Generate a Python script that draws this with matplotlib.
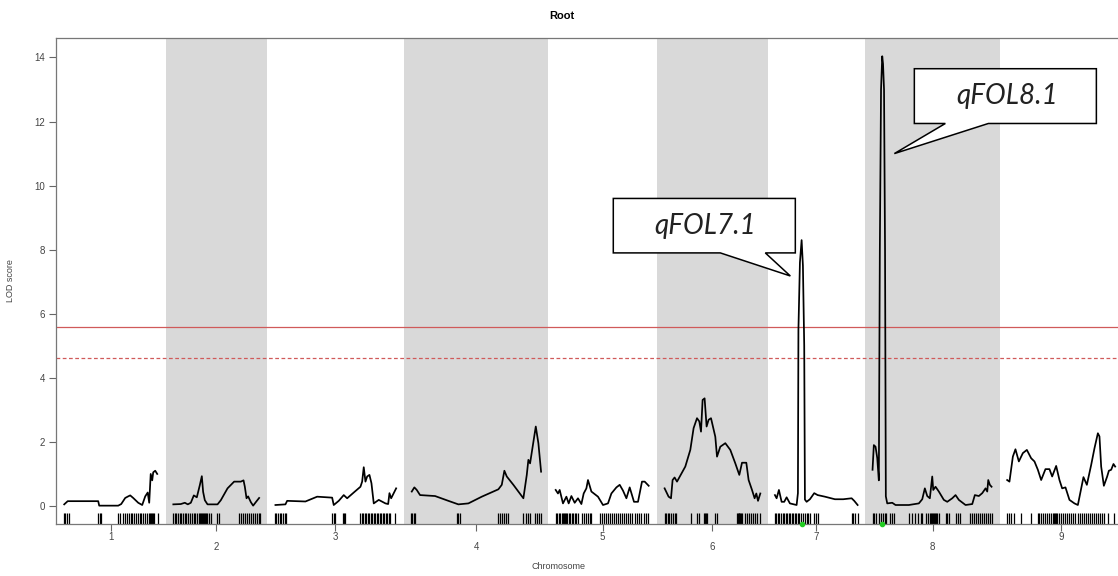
import matplotlib
matplotlib.use("Agg")
import matplotlib.pyplot as plt
from matplotlib.patches import Polygon

plt.rcParams["font.family"] = ["Liberation Sans", "DejaVu Sans"]

# ---- chromosome layout (cM) ----
CHR_NAMES = ["1", "2", "3", "4", "5", "6", "7", "8", "9"]
CHR_LEN = [95, 87, 122, 130, 94, 96, 83, 120, 108]
GAP = 14.6

# ---- LOD profiles (position within chromosome, LOD) ----
chr1_pos = [1, 4.5, 35, 36, 55, 58, 62, 65, 67, 70, 75, 79, 82, 84.5, 86, 87.5, 89, 90, 92, 94]
chr1_lod = [0.05, 0.15, 0.15, 0.01, 0.01, 0.06, 0.25, 0.3, 0.33, 0.25, 0.1, 0.03, 0.3, 0.42, 0.1, 1.0, 0.8, 1.05, 1.1, 1.0]

chr2_pos = [0.5, 8, 12, 15, 18, 21, 24, 27, 29, 30.3, 32, 34.7, 44.7, 48, 54.7, 61.3, 68, 70.7, 72, 73.7,
            75.3, 78, 80.3, 83, 86.3]
chr2_lod = [0.05, 0.06, 0.1, 0.05, 0.1, 0.33, 0.27, 0.65, 0.93, 0.44, 0.18, 0.05, 0.05, 0.18, 0.55, 0.76, 0.76, 0.8, 0.6, 0.24,
            0.3, 0.12, 0.01, 0.12, 0.25]

chr3_pos = [1, 11, 12.7, 31, 42.7, 57.7, 59.3, 64.3, 69.3, 72.7, 79.3, 86, 87.7, 89.3, 91, 92.7, 95, 97, 99.3,
            104.3, 111, 113.7, 115, 116.7, 121.7]
chr3_lod = [0.03, 0.05, 0.16, 0.14, 0.29, 0.26, 0.03, 0.16, 0.34, 0.24, 0.42, 0.6, 0.76, 1.21, 0.76, 0.92, 0.97, 0.71, 0.08,
            0.19, 0.08, 0.06, 0.4, 0.24, 0.55]

chr4_pos = [0.7, 3.3, 5.7, 9, 24, 37.3, 47.3, 57.3, 70.7, 87.3, 90.7, 93.3, 95.7, 102.3, 112.3, 115.7, 117.3, 119,
            124.7, 127.3, 130]
chr4_lod = [0.45, 0.58, 0.5, 0.34, 0.31, 0.16, 0.05, 0.08, 0.29, 0.52, 0.66, 1.1, 0.92, 0.66, 0.24, 0.97, 1.44, 1.33,
            2.48, 1.96, 1.07]

chr5_pos = [0, 2.3, 4, 7.3, 10.7, 13, 15.7, 19, 22.3, 25.7, 28, 30.7, 32.3, 35.7, 42.3, 47.3, 52.3, 55.7, 60.7, 64,
            67.3, 70.7, 74, 78.3, 82.3, 86.3, 89, 93]
chr5_lod = [0.5, 0.39, 0.5, 0.08, 0.29, 0.08, 0.31, 0.1, 0.24, 0.06, 0.39, 0.55, 0.81, 0.45, 0.29, 0.03, 0.08, 0.39, 0.58,
            0.66, 0.48, 0.24, 0.58, 0.13, 0.13, 0.76, 0.76, 0.63]

chr6_pos = [0.3, 4.3, 6.7, 8.3, 10.3, 12.7, 21, 26, 29.3, 32.7, 35, 36.7, 38.3, 40.3, 42.3, 44.3, 46.7, 51, 52.7, 56,
            61, 66, 71, 75, 77.7, 82, 84.3, 87.7, 90.3, 92, 93.7, 96]
chr6_lod = [0.55, 0.29, 0.24, 0.81, 0.89, 0.76, 1.23, 1.75, 2.43, 2.74, 2.64, 2.32, 3.31, 3.36, 2.48, 2.69, 2.74, 2.16,
            1.54, 1.85, 1.96, 1.75, 1.33, 0.97, 1.35, 1.35, 0.81, 0.5, 0.24, 0.39, 0.16, 0.39]

chr7_pos = [0, 1.7, 4, 6.7, 9.3, 11.7, 15, 21.7, 23, 23.5, 25, 26.7, 28, 29.3, 30, 31.7, 35, 39.3, 42.7, 50, 60,
            68.3, 76.7, 79.3, 82.7]
chr7_lod = [0.34, 0.24, 0.5, 0.13, 0.13, 0.27, 0.08, 0.03, 0.4, 5.5, 7.6, 8.3, 7.5, 5.0, 0.2, 0.13, 0.21, 0.4, 0.34,
            0.29, 0.21, 0.21, 0.24, 0.16, 0.03]

chr8_pos = [0, 1.3, 3, 4.7, 6.3, 7.3, 8.5, 9.7, 10.5, 11.5, 12.5, 13.3, 14.7, 19.7, 23, 36.3, 46.3, 49.7, 52.3, 54.7,
            57.3, 59.7, 60.7, 63, 66.3, 71.3, 74.7, 79.7, 83, 86.3, 93, 99.7, 102.3, 106.3, 109.7, 113, 114.7,
            115.7, 117.3, 119]
chr8_lod = [1.13, 1.9, 1.85, 1.5, 0.8, 8.0, 13.0, 14.04, 13.8, 13.0, 8.0, 0.3, 0.08, 0.1, 0.03, 0.03, 0.08, 0.21, 0.55,
            0.31, 0.24, 0.92, 0.5, 0.6, 0.45, 0.19, 0.13, 0.24, 0.34, 0.19, 0.03, 0.06, 0.34, 0.31, 0.4, 0.55,
            0.45, 0.81, 0.66, 0.6]

chr9_pos = [0, 2.3, 5.7, 8.3, 11.7, 15.7, 19.7, 24, 27.3, 30.7, 34, 38.3, 42.3, 45, 49, 52.3, 55, 58.3, 62.3, 67.3,
            70.7, 76.3, 79.7, 84, 87.3, 90.7, 92.3, 94, 96.7, 100, 101.7, 104, 106.3, 108]
chr9_lod = [0.81, 0.76, 1.54, 1.77, 1.39, 1.65, 1.75, 1.49, 1.39, 1.13, 0.81, 1.15, 1.15, 0.92, 1.25, 0.81, 0.55, 0.58,
            0.19, 0.08, 0.03, 0.9, 0.66, 1.28, 1.8, 2.27, 2.17, 1.23, 0.63, 0.92, 1.1, 1.13, 1.31, 1.23]

# ---- marker positions (rug) ----
chr1_mk = [0.3, 2, 3.7, 5.7, 34.7, 36.3, 38, 55, 57, 60, 62, 64, 66, 68, 69, 71, 73, 75, 77, 78, 80, 82, 84, 86,
           87, 88, 89, 90, 91, 95]
chr2_mk = [0.5, 2, 3.5, 5, 7, 8, 10, 12, 13, 15, 17, 19, 21, 22, 24, 26, 27, 28, 29, 30, 31, 32, 33, 34, 36, 38,
           44, 46, 66, 68, 70, 72, 74, 76, 78, 80, 82, 84, 86, 87]
chr3_mk = [0.3, 2, 3.7, 5.3, 7, 8.3, 10.3, 12, 58, 59.3, 61, 68.3, 69.5, 71, 86, 87.5, 89, 90.5, 92, 93.5, 95,
           96.5, 98, 99.5, 101, 102.5, 104, 105.5, 107, 108.5, 110, 111.5, 113, 114.5, 116, 121]
chr4_mk = [0, 1.3, 2.7, 4, 45.7, 47.3, 49, 87.3, 89, 91, 93, 94.5, 96.7, 112.3, 114.5, 116.5, 119, 124, 126, 128, 130]
chr5_mk = [0, 1.5, 3, 4.5, 6, 7, 8, 9, 10, 11.5, 13, 14.5, 16, 17.5, 19, 20.5, 22, 26, 28, 30, 32, 34, 35.5, 44,
           46, 48, 50, 52, 54, 56, 58, 60, 62, 64, 66, 68, 70, 72, 74, 76, 79, 81, 83, 85, 88, 90, 92.5]
chr6_mk = [0.3, 1.7, 3.3, 5, 6.7, 8.7, 10.3, 12, 26.7, 32.7, 35, 39.3, 40.3, 41.3, 42.7, 51, 52.7, 72.7, 73.5, 74.3,
           75, 76, 77, 77.7, 81, 83, 85, 87, 89, 91, 93, 96]
chr7_mk = [0, 1.5, 3, 4.5, 6, 8, 9.5, 11, 12.5, 14, 15.5, 17, 18.5, 20, 21.5, 23, 24.5, 26, 28, 30, 32, 33.5, 35,
           39.3, 41, 42.7, 76.7, 78.3, 80, 82.7]
chr8_mk = [0, 1.5, 3.5, 6, 8, 10, 12, 13, 17, 19, 21, 36.3, 39, 42, 45, 48, 49.7, 53, 55, 57, 58, 59, 60, 61, 62,
           63, 64, 66, 73, 74.5, 76.3, 83, 85, 87.5, 97, 99, 101, 103, 105, 107, 109, 111, 113, 115, 117, 119.7]
chr9_mk = [0, 2, 4, 7.3, 14, 24, 30.7, 32.3, 34, 35.7, 38.3, 40, 42, 44, 46, 47, 48, 49, 50, 52, 54, 56, 58, 60,
           62, 64, 66, 68, 70.7, 73, 75, 77, 79, 81, 83, 85, 87, 89, 91, 93, 95, 97, 100.7, 107.3]

POS = [chr1_pos, chr2_pos, chr3_pos, chr4_pos, chr5_pos, chr6_pos, chr7_pos, chr8_pos, chr9_pos]
LOD = [chr1_lod, chr2_lod, chr3_lod, chr4_lod, chr5_lod, chr6_lod, chr7_lod, chr8_lod, chr9_lod]
MARKERS = [chr1_mk, chr2_mk, chr3_mk, chr4_mk, chr5_mk, chr6_mk, chr7_mk, chr8_mk, chr9_mk]

# significance thresholds
THR_HIGH = 5.59
THR_LOW = 4.62

# QTL labels: (chromosome index, label)
QTL = [(6, "qFOL7.1"), (7, "qFOL8.1")]

fig = plt.figure(figsize=(11.18, 5.76), dpi=100)
ax = fig.add_axes([0.05, 0.0903, 0.954, 0.8438])

starts = []
s = 0.0
for L in CHR_LEN:
    starts.append(s)
    s += L + GAP
xmin = -GAP / 2
xmax = starts[-1] + CHR_LEN[-1] + GAP / 2
ax.set_xlim(xmin, xmax)
ax.set_ylim(-0.5625, 14.61)

for i, (st, L) in enumerate(zip(starts, CHR_LEN)):
    if i % 2 == 1:
        ax.axvspan(st - GAP / 2, st + L + GAP / 2, color="#d9d9d9", lw=0, zorder=0)
    xs = [st + p for p in POS[i]]
    ax.plot(xs, LOD[i], color="black", lw=1.25, zorder=3)
    mk = [st + p for p in MARKERS[i]]
    ax.vlines(mk, 0, 0.023, transform=ax.get_xaxis_transform(), color="black", lw=0.9, zorder=2)

ax.axhline(THR_HIGH, color="#d05a5a", lw=0.9, zorder=1)
ax.axhline(THR_LOW, color="#d05a5a", lw=0.9, ls=(0, (3, 2)), zorder=1)

# peak markers (green dots)
for ci, _ in QTL:
    k = max(range(len(LOD[ci])), key=lambda j: LOD[ci][j])
    ax.plot(starts[ci] + POS[ci][k], -0.5625, "o", color="#22cc22", ms=3, clip_on=False, zorder=5)

# x ticks at chromosome midpoints, labels on alternating rows
mids = [st + L / 2 for st, L in zip(starts, CHR_LEN)]
ax.set_xticks(mids)
ax.set_xticklabels([])
for i, (m, name) in enumerate(zip(mids, CHR_NAMES)):
    dy = -13 if i % 2 == 0 else -23
    ax.annotate(name, xy=(m, 0), xycoords=("data", "axes fraction"), xytext=(0, dy),
                textcoords="offset pixels", ha="center", va="center", fontsize=7, color="#444444")

ax.set_yticks(range(0, 15, 2))
ax.tick_params(axis="both", length=5, width=0.8, color="#666666", labelsize=7, labelcolor="#444444")
ax.tick_params(axis="y", pad=3)
for side in ["left", "top", "bottom"]:
    ax.spines[side].set_color("#777777")
    ax.spines[side].set_linewidth(0.9)
ax.spines["right"].set_visible(False)

ax.set_ylabel("LOD score", fontsize=6.5, color="#444444", labelpad=14)
fig.text(0.5, 0.017, "Chromosome", ha="center", va="center", fontsize=6.5, color="#444444")
fig.text(0.503, 0.972, "Root", ha="center", va="center", fontsize=8, fontweight="bold")

# speech-bubble callouts (data coordinates)
bubbles = [
    dict(rect=(550.0, 795.0 - 63, 7.9, 9.6), tail=(720.0 - 63, 765.0 - 63), tip=(727.0, 7.18),
         text="qFOL7.1", center=(642.0, 8.75)),
    dict(rect=(851.0, 1096.0 - 63, 11.94, 13.65), tail=(945.0 - 63, 988.0 - 63), tip=(831.0, 11.0),
         text="qFOL8.1", center=(944.0, 12.79)),
]
for b in bubbles:
    x0, x1, y0, y1 = b["rect"]
    t0, t1 = b["tail"]
    verts = [(x0, y1), (x1, y1), (x1, y0), (t1, y0), b["tip"], (t0, y0), (x0, y0)]
    ax.add_patch(Polygon(verts, closed=True, facecolor="white", edgecolor="black", lw=1.1, zorder=6))
    ax.text(*b["center"], b["text"], ha="center", va="center", fontsize=20, style="italic",
            family=["Lato", "DejaVu Sans"], color="#222222", zorder=7)

fig.savefig("out.png", dpi=100)
